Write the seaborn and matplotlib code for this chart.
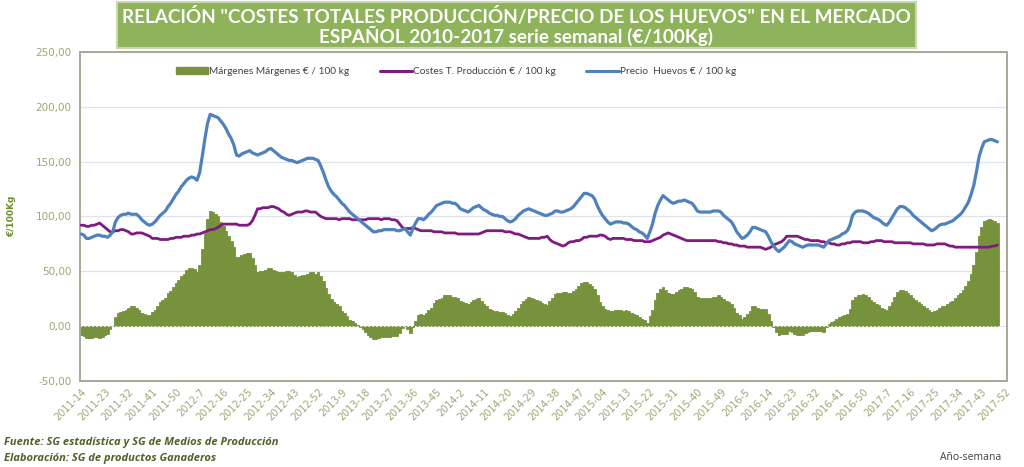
import matplotlib
matplotlib.use("Agg")
import matplotlib.pyplot as plt
import pandas as pd
import seaborn as sns
from matplotlib.patches import Patch, Rectangle
from matplotlib.lines import Line2D
from matplotlib.ticker import FuncFormatter, MultipleLocator

# ---- categories: ISO year-week, 2011-14 .. 2017-52 ----
year_weeks = [(2011, 14, 52), (2012, 1, 52), (2013, 1, 52), (2014, 1, 52),
              (2015, 1, 53), (2016, 1, 52), (2017, 1, 52)]
semanas = [f"{y}-{w}" for (y, a, b) in year_weeks for w in range(a, b + 1)]

tick_labels = ["2011-14", "2011-23", "2011-32", "2011-41", "2011-50", "2012-7", "2012-16",
               "2012-25", "2012-34", "2012-43", "2012-52", "2013-9", "2013-18", "2013-27",
               "2013-36", "2013-45", "2014-2", "2014-11", "2014-20", "2014-29", "2014-38",
               "2014-47", "2015-04", "2015-13", "2015-22", "2015-31", "2015-40", "2015-49",
               "2016-5", "2016-14", "2016-23", "2016-32", "2016-41", "2016-50", "2017-7",
               "2017-16", "2017-25", "2017-34", "2017-43", "2017-52"]

# ---- weekly series (€/100 kg) ----
precio = [
    84, 83, 80, 80, 81, 82, 83, 83, 82, 82,
    81, 83, 86, 95, 99, 101, 102, 102, 103, 102,
    102, 102, 100, 97, 95, 93, 92, 93, 95, 98,
    101, 103, 105, 109, 112, 116, 120, 123, 127, 130,
    133, 135, 136, 135, 133, 140, 155, 171, 185, 193,
    192, 191, 190, 187, 184, 180, 175, 171, 165, 156,
    155, 157, 158, 159, 160, 158, 157, 156, 157, 158,
    159, 161, 162, 160, 158, 156, 154, 153, 152, 151,
    151, 150, 149, 150, 151, 152, 153, 153, 153, 152,
    151, 146, 140, 133, 127, 123, 120, 118, 115, 112,
    110, 107, 104, 102, 100, 98, 96, 94, 92, 90,
    88, 86, 86, 87, 87, 88, 88, 88, 88, 88,
    87, 87, 88, 89, 86, 83, 89, 94, 98, 98,
    97, 99, 102, 104, 107, 110, 111, 112, 113, 113,
    113, 112, 112, 110, 107, 106, 105, 104, 106, 108,
    109, 110, 108, 106, 105, 103, 102, 101, 101, 100,
    100, 98, 96, 95, 96, 98, 101, 103, 105, 106,
    107, 106, 105, 104, 103, 102, 101, 101, 102, 103,
    105, 105, 104, 104, 105, 106, 107, 109, 112, 115,
    118, 121, 121, 120, 119, 116, 110, 105, 101, 98,
    95, 93, 94, 95, 95, 95, 94, 94, 93, 91,
    89, 88, 86, 85, 83, 80, 86, 93, 103, 110,
    115, 119, 117, 115, 113, 112, 113, 114, 114, 115,
    114, 113, 112, 109, 105, 104, 104, 104, 104, 104,
    105, 105, 105, 104, 101, 99, 97, 95, 91, 86,
    83, 80, 81, 83, 86, 90, 90, 89, 88, 87,
    86, 82, 77, 73, 70, 68, 70, 72, 75, 78,
    77, 75, 74, 73, 72, 73, 74, 74, 74, 74,
    74, 73, 72, 75, 78, 79, 80, 81, 82, 84,
    85, 87, 92, 101, 104, 105, 105, 105, 104, 103,
    101, 99, 98, 97, 95, 93, 92, 95, 99, 103,
    107, 109, 109, 108, 106, 104, 101, 99, 97, 95,
    93, 91, 89, 87, 88, 90, 92, 93, 93, 94,
    95, 96, 98, 100, 102, 105, 109, 113, 120, 128,
    140, 154, 162, 168, 169, 170, 170, 169, 168,
]

costes = [
    92, 92, 91, 91, 92, 92, 93, 94, 92, 90,
    88, 86, 86, 87, 87, 88, 88, 87, 86, 84,
    84, 85, 85, 85, 84, 83, 82, 80, 80, 80,
    79, 79, 79, 79, 80, 80, 81, 81, 81, 82,
    82, 82, 83, 83, 84, 84, 85, 86, 87, 88,
    88, 89, 90, 92, 93, 93, 93, 93, 93, 93,
    92, 92, 92, 92, 93, 96, 101, 107, 107, 108,
    108, 108, 109, 109, 108, 107, 105, 104, 102, 101,
    102, 103, 104, 104, 104, 105, 105, 104, 104, 104,
    102, 100, 99, 98, 98, 98, 98, 98, 97, 98,
    98, 98, 98, 97, 97, 97, 97, 97, 97, 98,
    98, 98, 98, 98, 97, 98, 98, 98, 97, 97,
    96, 93, 90, 89, 89, 89, 90, 89, 88, 87,
    87, 87, 87, 87, 86, 86, 86, 86, 85, 85,
    85, 85, 85, 84, 84, 84, 84, 84, 84, 84,
    84, 84, 85, 86, 87, 87, 87, 87, 87, 87,
    87, 86, 86, 86, 85, 84, 84, 83, 82, 81,
    80, 80, 80, 80, 80, 81, 81, 82, 79, 77,
    76, 75, 74, 73, 74, 76, 77, 77, 78, 78,
    79, 81, 81, 82, 82, 82, 82, 83, 83, 82,
    80, 79, 80, 80, 80, 80, 80, 79, 79, 79,
    78, 78, 78, 78, 77, 77, 77, 78, 79, 80,
    81, 83, 84, 85, 84, 83, 82, 81, 80, 79,
    78, 78, 78, 78, 78, 78, 78, 78, 78, 78,
    78, 78, 77, 77, 76, 76, 75, 75, 74, 74,
    73, 73, 73, 72, 72, 72, 72, 72, 72, 71,
    70, 71, 72, 74, 75, 76, 77, 79, 82, 82,
    82, 82, 82, 81, 80, 79, 79, 78, 78, 78,
    78, 77, 77, 76, 76, 75, 75, 74, 74, 75,
    75, 76, 76, 77, 77, 77, 77, 76, 76, 76,
    77, 77, 78, 78, 78, 77, 77, 77, 77, 76,
    76, 76, 76, 76, 76, 76, 75, 75, 75, 75,
    75, 74, 74, 74, 74, 75, 75, 75, 75, 74,
    73, 73, 72, 72, 72, 72, 72, 72, 72, 72,
    72, 72, 72, 72, 72, 72, 73, 73, 74,
]

# margin series is defined as price minus production cost
margenes = [p - c for p, c in zip(precio, costes)]

# ---- style ----
sns.set_theme(style="white")
plt.rcParams["font.family"] = ["DejaVu Sans"]

C_BAR = "#76923c"
C_COST = "#7e1a80"
C_PRICE = "#4f81bd"
C_TICK = "#9aa874"
C_FRAME = "#a8a898"

n = len(precio)
df = pd.DataFrame({"semana": semanas[:n], "margen": margenes,
                   "costes": costes, "precio": precio})

fig = plt.figure(figsize=(10.24, 4.67), dpi=100)
fig.patch.set_facecolor("white")
ax = fig.add_axes([0.078, 0.184, 0.905, 0.705])

sns.barplot(data=df, x="semana", y="margen", order=semanas, color=C_BAR,
            width=1.0, saturation=1, linewidth=0.6, edgecolor=C_BAR,
            ax=ax, zorder=2)
sns.lineplot(data=df, x="semana", y="costes", color=C_COST, linewidth=2.0,
             ax=ax, zorder=3, sort=False)
sns.lineplot(data=df, x="semana", y="precio", color=C_PRICE, linewidth=2.3,
             ax=ax, zorder=4, sort=False)

ax.set_xlim(-0.5, len(semanas) - 0.5)
ax.set_ylim(-50, 250)
ax.yaxis.set_major_locator(MultipleLocator(50))
ax.yaxis.set_major_formatter(FuncFormatter(lambda v, p: f"{v:.2f}".replace(".", ",")))
ax.grid(axis="y", color="#dfe4ea", linewidth=0.9, zorder=0)
ax.grid(axis="x", visible=False)
ax.axhline(0, color="#e8ecd8", linewidth=0.7, linestyle=(0, (2, 2)), zorder=2.5)

ax.set_xticks(list(range(0, len(semanas), 9)))
ax.set_xticklabels(tick_labels, rotation=45, ha="right", rotation_mode="anchor",
                   fontsize=7, color=C_TICK)
ax.tick_params(axis="x", length=0, pad=4)
ax.tick_params(axis="y", length=0, pad=6, labelsize=7.5, labelcolor=C_TICK)
ax.set_xlabel("")
ax.set_ylabel("€/100Kg", fontsize=6.5, fontweight="bold", color="#6f8f2e", labelpad=14)
for s in ax.spines.values():
    s.set_visible(True)
    s.set_color(C_FRAME)
    s.set_linewidth(1.4)

# legend
handles = [Patch(facecolor=C_BAR, edgecolor=C_BAR),
           Line2D([0], [0], color=C_COST, linewidth=2.2),
           Line2D([0], [0], color=C_PRICE, linewidth=2.2)]
labels = ["Márgenes Márgenes € / 100 kg", "Costes T. Producción € / 100 kg",
          "Precio  Huevos € / 100 kg"]
leg = fig.legend(handles, labels, loc="center", bbox_to_anchor=(0.445, 0.846),
                 ncol=3, frameon=False, handlelength=3.2,
                 handletextpad=0.1, columnspacing=3.0,
                 prop={"family": "Lato", "size": 7.3})
for t in leg.get_texts():
    t.set_color("#404040")

# title box
fig.patches.append(Rectangle((117 / 1024, 1 - 48 / 467), (916 - 117) / 1024, 46 / 467,
                             transform=fig.transFigure, facecolor="#8fb35a",
                             edgecolor="#c7d9ae", linewidth=1.5, zorder=5))
fig.text(516 / 1024, 1 - 16 / 467,
         'RELACIÓN "COSTES TOTALES PRODUCCIÓN/PRECIO DE LOS HUEVOS" EN EL MERCADO',
         ha="center", va="center", color="white", fontsize=13.6, fontweight="bold",
         family="Lato", zorder=6)
fig.text(516 / 1024, 1 - 36 / 467,
         "ESPAÑOL 2010-2017 serie semanal (€/100Kg)",
         ha="center", va="center", color="white", fontsize=13.6, fontweight="bold",
         family="Lato", zorder=6)

# footer
fig.text(4 / 1024, 1 - 443 / 467, "Fuente: SG estadística y SG de Medios de Producción",
         ha="left", va="center", fontsize=8, fontweight="bold", style="italic",
         color="#4f6228", family="Open Sans")
fig.text(4 / 1024, 1 - 458 / 467, "Elaboración: SG de productos Ganaderos",
         ha="left", va="center", fontsize=8, fontweight="bold", style="italic",
         color="#4f6228", family="Open Sans")
fig.text(1001 / 1024, 1 - 458 / 467, "Año-semana", ha="right", va="center",
         fontsize=7.5, color="#404040", family="Open Sans")

fig.savefig("out.png", dpi=100, facecolor="white")
